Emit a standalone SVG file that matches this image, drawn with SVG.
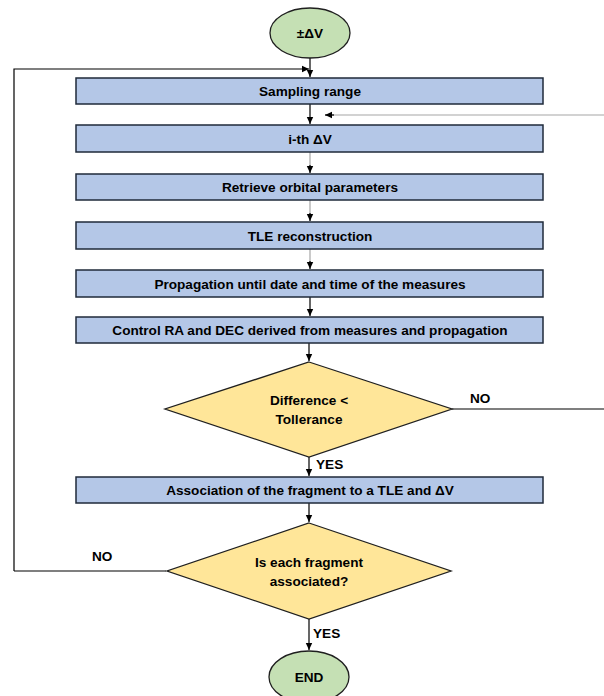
<svg xmlns="http://www.w3.org/2000/svg" width="604" height="696" viewBox="0 0 604 696">
<defs>
<marker id="ah" markerWidth="8" markerHeight="8" refX="7" refY="4" orient="auto" markerUnits="userSpaceOnUse">
<path d="M0,0.8 L7,4 L0,7.2 Z" fill="#000"/>
</marker>
<style>
.box{fill:#B4C7E7;stroke:#1F2A3A;stroke-width:1.5}
.dia{fill:#FFE699;stroke:#1F1F1F;stroke-width:1.3}
.ell{fill:#C5E0B4;stroke:#1F1F1F;stroke-width:1.3}
.t{font-family:"Liberation Sans",Arial,sans-serif;font-weight:bold;font-size:13.6px;fill:#000;text-anchor:middle}
.l{font-family:"Liberation Sans",Arial,sans-serif;font-weight:bold;font-size:13.6px;fill:#000}
.c{fill:none;stroke:#000;stroke-width:1.2}
.g{fill:none;stroke:#A6A6A6;stroke-width:1.2}
</style>
</defs>
<rect width="604" height="696" fill="#fff"/>
<g id="connectors">
<path class="c" d="M310,58 V77" marker-end="url(#ah)"/>
<path class="c" d="M14,571 H166"/>
<path class="c" d="M14,571 V69 H309" marker-end="url(#ah)"/>
<path class="c" d="M310,104 V124" marker-end="url(#ah)"/>
<path class="g" d="M604,115 H332"/>
<path class="c" d="M334,115 H325" marker-end="url(#ah)"/>
<path class="g" d="M310,152 V166"/>
<path class="c" d="M310,165 V173" marker-end="url(#ah)"/>
<path class="g" d="M310,200 V214"/>
<path class="c" d="M310,213 V221" marker-end="url(#ah)"/>
<path class="g" d="M310,249 V262"/>
<path class="c" d="M310,261 V269" marker-end="url(#ah)"/>
<path class="c" d="M310,297 V316" marker-end="url(#ah)"/>
<path class="c" d="M309,343 V361" marker-end="url(#ah)"/>
<path class="c" d="M452,409 H604"/>
<path class="c" d="M309,457 V476" marker-end="url(#ah)"/>
<path class="c" d="M309,503 V522" marker-end="url(#ah)"/>
<path class="c" d="M309,619 V650" marker-end="url(#ah)"/>
<text class="l" x="470" y="403">NO</text>
<text class="l" x="316" y="469">YES</text>
<text class="l" x="92" y="561">NO</text>
<text class="l" x="313" y="638">YES</text>
</g>
<g id="start">
<ellipse class="ell" cx="310" cy="33" rx="40" ry="25"/>
<text class="t" x="310" y="37.5">±ΔV</text>
</g>
<g id="sampling">
<rect class="box" x="76" y="78" width="467" height="26"/>
<text class="t" x="310" y="96">Sampling range</text>
</g>
<g id="ith">
<rect class="box" x="76" y="125" width="467" height="27"/>
<text class="t" x="310" y="143.5">i-th ΔV</text>
</g>
<g id="retrieve">
<rect class="box" x="76" y="174" width="467" height="26"/>
<text class="t" x="310" y="192">Retrieve orbital parameters</text>
</g>
<g id="tle">
<rect class="box" x="76" y="222" width="467" height="27"/>
<text class="t" x="310" y="240.5">TLE reconstruction</text>
</g>
<g id="propagation">
<rect class="box" x="76" y="270" width="467" height="27"/>
<text class="t" x="310" y="288.5">Propagation until date and time of the measures</text>
</g>
<g id="control">
<rect class="box" x="76" y="317" width="467" height="26"/>
<text class="t" x="310" y="335">Control RA and DEC derived from measures and propagation</text>
</g>
<g id="difference">
<polygon class="dia" points="309,362 452,409 309,457 165,409"/>
<text class="t" x="309" y="404.5">Difference &lt;</text>
<text class="t" x="309" y="423.5">Tollerance</text>
</g>
<g id="association">
<rect class="box" x="76" y="477" width="467" height="26"/>
<text class="t" x="310" y="495">Association of the fragment to a TLE and ΔV</text>
</g>
<g id="each">
<polygon class="dia" points="309,523 451,571 309,619 167,571"/>
<text class="t" x="309" y="566.5">Is each fragment</text>
<text class="t" x="309" y="585.5">associated?</text>
</g>
<g id="end">
<ellipse class="ell" cx="309" cy="677" rx="40" ry="26"/>
<text class="t" x="309" y="681.5">END</text>
</g>
</svg>
